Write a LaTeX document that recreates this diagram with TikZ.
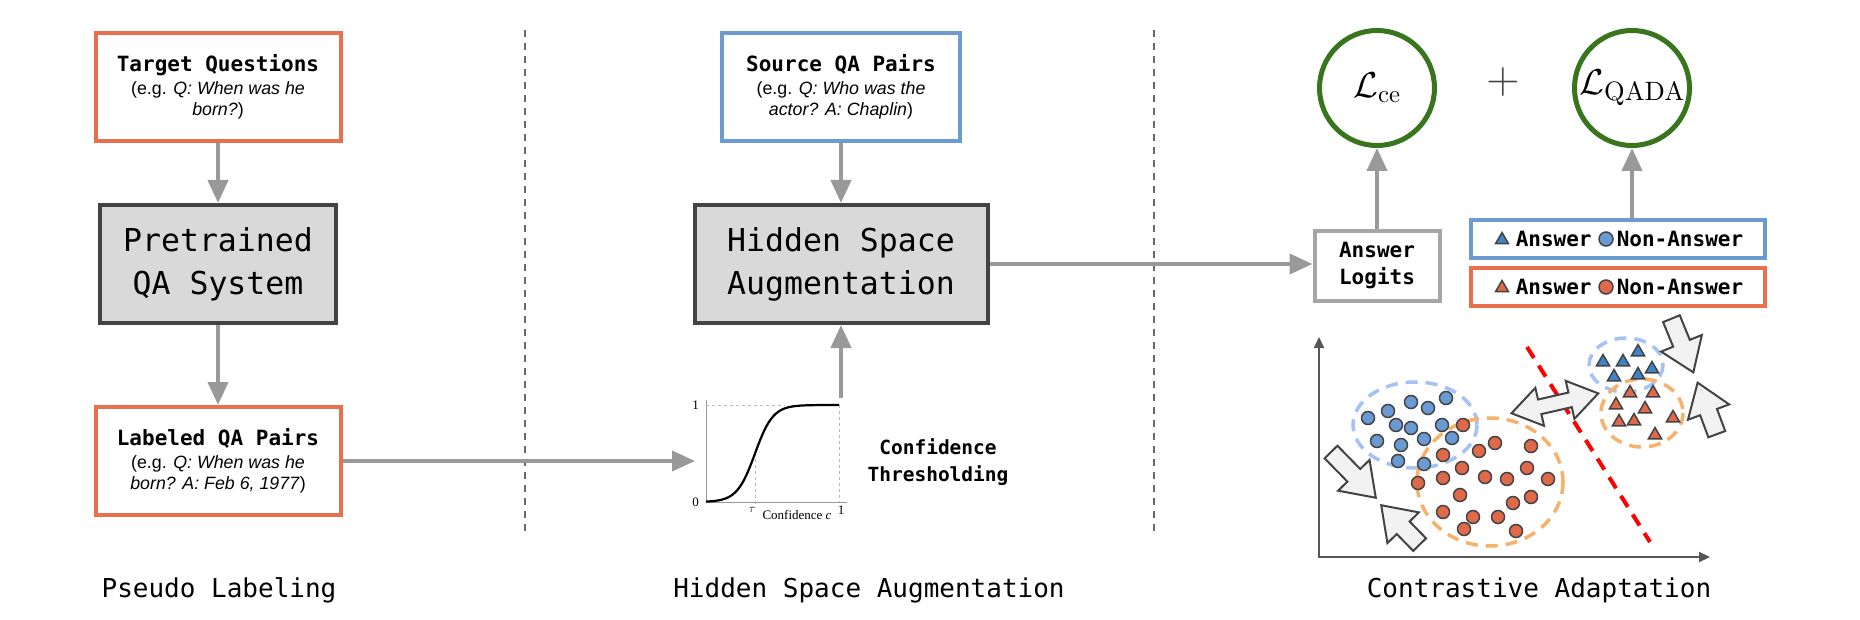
\documentclass[tikz,border=0pt]{standalone}
\usepackage{fix-cm}
\usepackage[no-math]{fontspec}
\setmainfont{Liberation Sans}
\setmonofont{DejaVu Sans Mono}
\newfontfamily\plotfont{Liberation Serif}
\usetikzlibrary{arrows.meta, positioning, shapes.geometric, shapes.arrows, calc}
\definecolor{corange}{HTML}{E8704E}
\definecolor{cblue}{HTML}{6C9BD2}
\definecolor{cgreen}{HTML}{38761D}
\definecolor{cgrey}{HTML}{999999}
\definecolor{clight}{HTML}{A6A6A6}
\definecolor{cdark}{HTML}{434343}
\definecolor{cbox}{HTML}{D9D9D9}
\definecolor{cpale}{HTML}{F2F2F2}
\definecolor{cdotblue}{HTML}{6A9AD4}
\definecolor{cdotorange}{HTML}{E0694A}
\definecolor{ctriblue}{HTML}{3D85C6}
\definecolor{cellblue}{HTML}{A4C2F4}
\definecolor{cellorange}{HTML}{F6B26B}
\newcommand{\boxtitle}{\ttfamily\bfseries\fontsize{21}{24}\selectfont}
\newcommand{\losssub}[2]{\mbox{\resizebox{#1}{!}{\usefont{OT1}{cmr}{m}{n}\fontsize{10}{12}\selectfont #2}}}
\tikzset{
  every picture/.style={line width=1.5pt},
  qbox/.style={draw=#1, fill=white, line width=4pt, align=center, inner sep=0pt,
    minimum width=245pt, minimum height=108pt, font=\fontsize{17.8}{21}\selectfont},
  qbox/.default=corange,
  sysbox/.style={draw=cdark, fill=cbox, line width=4pt, align=center, inner sep=0pt,
    font=\ttfamily\fontsize{31.5}{43}\selectfont, minimum height=118pt},
  arrow/.style={-{Triangle[length=23pt, width=20pt]}, draw=cgrey, line width=4pt},
  loss/.style={circle, draw=cgreen, line width=5pt, minimum size=115pt, inner sep=0pt,
    font=\fontsize{36}{36}\selectfont},
  legbox/.style={draw=#1, fill=white, line width=4pt, minimum width=294pt, minimum height=38pt, inner sep=0pt},
  legtext/.style={font=\ttfamily\bfseries\fontsize{21}{24}\selectfont, inner sep=0pt, anchor=west},
  dot/.style={circle, draw=cdark, fill=#1, line width=1.5pt, minimum size=13pt, inner sep=0pt},
  tri/.style={regular polygon, regular polygon sides=3, draw=cdark, fill=#1, line width=1.5pt,
    minimum size=15pt, inner sep=0pt},
  cluster/.style={draw=#1, line width=3.5pt, dash pattern=on 12pt off 8pt},
  barrow/.style={single arrow, draw=cdark, fill=cpale, line width=2pt, inner xsep=0pt, inner ysep=8pt,
    single arrow head extend=13pt, single arrow tip angle=70, minimum height=#1, anchor=tip},
  dbarrow/.style={double arrow, draw=cdark, fill=cpale, line width=2pt, inner xsep=0pt, inner ysep=6.5pt,
    double arrow head extend=12pt, double arrow tip angle=68, minimum height=#1, anchor=tip 1},
  sep/.style={draw=cdark!80, line width=1.5pt, dash pattern=on 7pt off 6pt},
  phase/.style={font=\ttfamily\fontsize{26}{30}\selectfont},
}

\begin{document}
\begin{tikzpicture}[x=1pt, y=-1pt]
  \fill[white] (0,0) rectangle (1860,620);
  \useasboundingbox (0,0) rectangle (1860,620);
  % ---------- pseudo labeling ----------
  \node[qbox] (target) at (218,87) {{\boxtitle Target Questions}\\[2pt](e.g. \textit{Q: When was he}\\\textit{born?})};
  \node[sysbox, minimum width=236pt] (pretrained) at (218,264) {Pretrained\\QA System};
  \node[qbox] (labeled) at (218,461) {{\boxtitle Labeled QA Pairs}\\[2pt](e.g. \textit{Q: When was he}\\\textit{born? A: Feb 6, 1977})};
  \draw[arrow] (target) -- (pretrained);
  \draw[arrow] (pretrained) -- (labeled);
  \draw[sep] (525,30) -- (525,535);
  \node[phase] (phasea) at (219,590) {Pseudo Labeling};
  % ---------- hidden space augmentation ----------
  \node[qbox=cblue, minimum width=238pt] (source) at (841,87) {{\boxtitle Source QA Pairs}\\[2pt](e.g. \textit{Q: Who was the}\\\textit{actor? A: Chaplin})};
  \node[sysbox, minimum width=293pt] (hsa) at (841,264) {Hidden Space\\Augmentation};
  \draw[arrow] (source) -- (hsa);
  % confidence curve
  \draw[cgrey, line width=1pt] (706,400) -- (706,502) -- (847,502);
  \draw[cgrey!70, line width=1pt, dash pattern=on 3pt off 3pt] (706,405) -- (785,405) (839,405) -- (839,502) (755,453) -- (755,508);
  \draw[black, line width=2.2pt] plot[domain=706:839, samples=80, smooth] (\x, {502-97/(1+exp(-(\x-755)/9))});
  \node[font=\plotfont\fontsize{13}{13}\selectfont, anchor=east] (ytop) at (703,405) {1};
  \node[font=\plotfont\fontsize{13}{13}\selectfont, anchor=east] (ybot) at (703,502) {0};
  \node[font=\fontsize{12}{12}\selectfont] (tau) at (752,510) {$\tau$};
  \node[font=\plotfont\fontsize{13}{13}\selectfont] (xlab) at (797,515) {Confidence \textit{c}};
  \node[font=\plotfont\fontsize{13}{13}\selectfont] (xend) at (841,510) {1};
  \coordinate (plotin) at (695,461);
  \coordinate (plotout) at (841,398);
  \draw[arrow] (labeled) -- (plotin);
  \draw[arrow] (plotout) -- (hsa);
  \node[align=center, font=\ttfamily\bfseries\fontsize{19.5}{27}\selectfont] (thresh) at (938,462) {Confidence\\Thresholding};
  \draw[sep] (1154,30) -- (1154,535);
  \node[phase] (phaseb) at (869,590) {Hidden Space Augmentation};
  % ---------- contrastive adaptation ----------
  \node[draw=clight, line width=4pt, align=center, inner sep=0pt, minimum width=125pt, minimum height=70pt,
    font=\ttfamily\bfseries\fontsize{21}{27}\selectfont] (logits) at (1377,266) {Answer\\Logits};
  \node[loss] (lce) at (1377,88) {$\mathcal{L}_{\losssub{22pt}{ce}}$};
  \node[loss] (lqada) at (1632,88) {$\mathcal{L}_{\losssub{80pt}{QADA}}$};
  \node[text=cdark, font=\fontsize{46}{46}\selectfont] (plus) at (1503,82) {$+$};
  \foreach \nm/\col/\tc/\dc/\y in {src/cblue/ctriblue/cdotblue/239, tgt/corange/cdotorange/cdotorange/287} {
    \node[legbox=\col] (leg\nm) at (1618,\y) {};
    \node[tri=\tc] (leg\nm tri) at (1502,\y+1) {};
    \node[legtext] (leg\nm ans) at (1515,\y) {Answer};
    \node[dot=\dc, minimum size=14pt] (leg\nm dot) at (1606,\y) {};
    \node[legtext] (leg\nm non) at (1616,\y) {Non-Answer};
  }
  \draw[arrow] (hsa.east) -- (hsa.east -| logits.west);
  \draw[arrow] (logits) -- (lce);
  \draw[arrow] (legsrc.north -| lqada) -- (lqada);
  % feature space
  \draw[{Triangle[length=11pt, width=10pt]}-{Triangle[length=11pt, width=10pt]}, draw=cdark!90, line width=2pt]
    (1319,337) -- (1319,557) -- (1710,557);
  \draw[cluster=cellblue] (1415,425) ellipse [x radius=62, y radius=43];
  \draw[cluster=cellorange] (1490,482) ellipse [x radius=73, y radius=64];
  \draw[cluster=cellblue] (1626,365) ellipse [x radius=37, y radius=27];
  \draw[cluster=cellorange] (1642,413) ellipse [x radius=41, y radius=34];
  \draw[red, line width=4pt, dash pattern=on 13pt off 9pt] (1527,347) -- (1650,542);
  \foreach \px/\py [count=\i] in {1368/418, 1388/411, 1411/402, 1428/408, 1446/398, 1396/425, 1411/428,
    1442/425, 1377/441, 1401/445, 1424/439, 1452/438, 1398/461, 1424/464}
    \node[dot=cdotblue] (sn\i) at (\px,\py) {};
  \foreach \px/\py [count=\i] in {1463/425, 1443/455, 1479/451, 1495/443, 1531/446, 1462/468, 1527/468,
    1418/483, 1443/478, 1485/477, 1507/479, 1548/479, 1460/495, 1513/503, 1531/497, 1443/512,
    1473/517, 1498/517, 1464/529, 1516/531}
    \node[dot=cdotorange] (tn\i) at (\px,\py) {};
  \foreach \px/\py [count=\i] in {1603/362, 1623/362, 1638/352, 1614/377, 1638/375, 1652/369}
    \node[tri=ctriblue] (sa\i) at (\px,\py) {};
  \foreach \px/\py [count=\i] in {1630/393, 1653/393, 1616/405, 1645/409, 1619/422, 1634/421,
    1673/418, 1655/435}
    \node[tri=cdotorange] (ta\i) at (\px,\py) {};
  \node[barrow=64pt, rotate=-45.6] (pulla) at (1377,499) {};
  \node[barrow=55pt, rotate=134.3] (pullb) at (1380,504) {};
  \node[barrow=58pt, rotate=-67.8] (pullc) at (1694,374) {};
  \node[barrow=55pt, rotate=110.4] (pulld) at (1697,381) {};
  \node[dbarrow=89pt, rotate=12.9] (push) at (1600,393) {};
  \node[phase] (phasec) at (1539,590) {Contrastive Adaptation};
\end{tikzpicture}
\end{document}
